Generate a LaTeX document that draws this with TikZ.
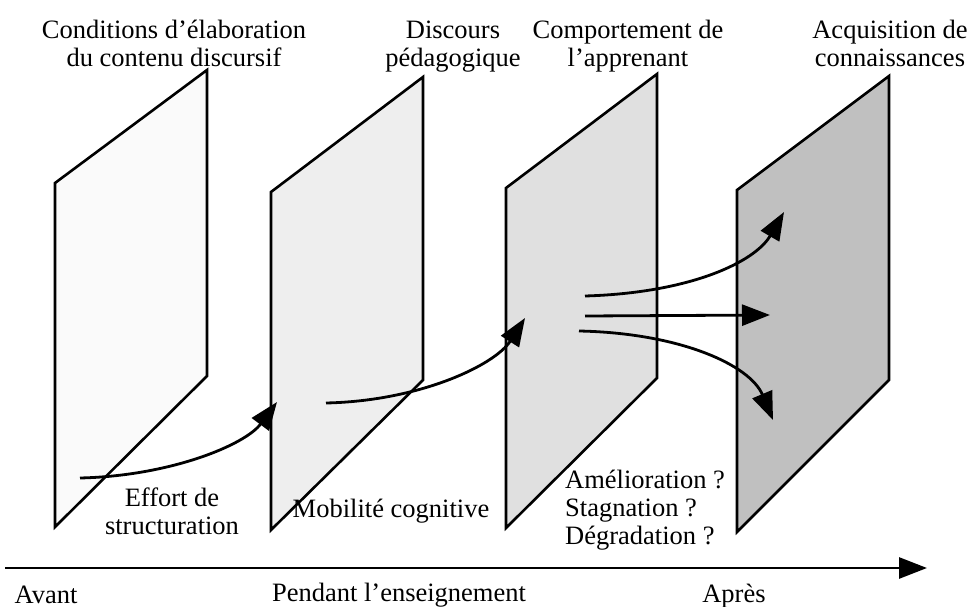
\documentclass[tikz,border=0pt]{standalone}
\usepackage{fontspec}
\setmainfont{Liberation Serif}
\usetikzlibrary{arrows.meta}
\definecolor{planeA}{HTML}{FAFAFA}
\definecolor{planeB}{HTML}{EEEEEE}
\definecolor{planeC}{HTML}{E0E0E0}
\definecolor{planeD}{HTML}{C0C0C0}
\tikzset{
  plane/.style={draw=black, line width=2.6pt, line join=miter},
  flow/.style={line width=2.8pt, -{Triangle[length=28pt,width=21pt]}},
  lbl/.style={inner sep=0pt, font=\fontsize{26.5}{28}\selectfont, align=center},
}
\begin{document}
\begin{tikzpicture}[x=1pt,y=-1pt]
    \useasboundingbox (0,0) rectangle (970,607);
    % planes, lightest to darkest
    \filldraw[plane, fill=planeA] (55,183) -- (207,70) -- (207,376) -- (55,527) -- cycle;
    \filldraw[plane, fill=planeB] (271,192) -- (423,77) -- (423,380) -- (271,530) -- cycle;
    \filldraw[plane, fill=planeC] (506,188) -- (657,74) -- (657,378) -- (506,528) -- cycle;
    \filldraw[plane, fill=planeD] (737,190) -- (889,76) -- (889,380) -- (737,532) -- cycle;

    % titles above the planes
    \node[lbl, anchor=north] (cond) at (174,20) {Conditions d’élaboration\\du contenu discursif};
    \node[lbl, anchor=north] (disc) at (453,21) {Discours\\pédagogique};
    \node[lbl, anchor=north] (comp) at (628,20) {Comportement de\\l’apprenant};
    \node[lbl, anchor=north] (acq)  at (890,20) {Acquisition de\\connaissances};

    % arrows through the planes
    \coordinate (effS) at (80,478);   \coordinate (effE) at (277,402);
    \coordinate (mobS) at (326,403);  \coordinate (mobE) at (525,318);
    \coordinate (amS) at (585,296);   \coordinate (amE) at (784,212);
    \coordinate (stS) at (585,316);   \coordinate (stE) at (770,315);
    \coordinate (dgS) at (579,331);   \coordinate (dgE) at (773,420);
    \draw[flow] (effS) .. controls (170,476) and (245,445) .. (effE);
    \draw[flow] (mobS) .. controls (420,401) and (495,365) .. (mobE);
    \draw[flow] (amS) .. controls (690,293) and (755,262) .. (amE);
    \draw[flow] (stS) -- (stE);
    \draw[flow] (dgS) .. controls (680,333) and (750,365) .. (dgE);

    % labels of the arrows
    \node[lbl] (effort) at (172,511) {Effort de\\structuration};
    \node[lbl] (mobil) at (391,511) {Mobilité cognitive};
    \node[lbl, anchor=west, align=left] (issue) at (565,510) {Amélioration ?\\Stagnation ?\\Dégradation ?};

    % time axis
    \coordinate (tA) at (5,568);  \coordinate (tB) at (927,568);
    \draw[line width=2.8pt, -{Triangle[length=28pt,width=21pt]}] (tA) -- (tB);
    \node[lbl, anchor=base] (avant) at (46,603) {Avant};
    \node[lbl, anchor=base] (pend) at (399,601) {Pendant l’enseignement};
    \node[lbl, anchor=base] (apres) at (734,602) {Après};
\end{tikzpicture}
\end{document}
